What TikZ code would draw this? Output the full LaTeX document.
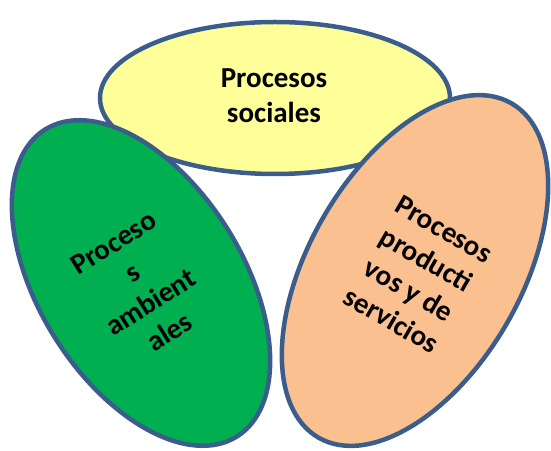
\documentclass[tikz,border=0pt]{standalone}
\usepackage{fontspec}
\setmainfont{Carlito}
\usetikzlibrary{shapes.geometric}
\definecolor{edgeblue}{HTML}{3A5D8C}
\definecolor{yel}{HTML}{FFFF99}
\definecolor{grn}{HTML}{00B050}
\definecolor{org}{HTML}{FAC090}
\begin{document}
\begin{tikzpicture}[x=1pt,y=1pt,
 blob/.style={ellipse, draw=edgeblue, line width=4.5pt, inner sep=0pt, outer sep=0pt},
 lbl/.style={font=\fontsize{29}{35}\selectfont\bfseries, align=center, text=black, inner sep=0pt}]
\useasboundingbox (0,0) rectangle (551,450);
\node[blob, fill=yel, minimum width=350pt, minimum height=152pt] (soc) at (275,352) {};
\node[blob, fill=grn, minimum width=204pt, minimum height=362pt, rotate=32] (amb) at (141,167) {};
\node[blob, fill=org, minimum width=212pt, minimum height=386pt, rotate=-30] (pro) at (415,179.5) {};
\node[lbl] (tsoc) at (274,354) {Procesos\\sociales};
\node[lbl, rotate=32] (tamb) at (141.5,162.5) {Proceso\\s\\ambient\\ales};
\node[lbl, rotate=-30] (tpro) at (417.5,175) {Procesos\\producti\\vos y de\\servicios};
\end{tikzpicture}
\end{document}
